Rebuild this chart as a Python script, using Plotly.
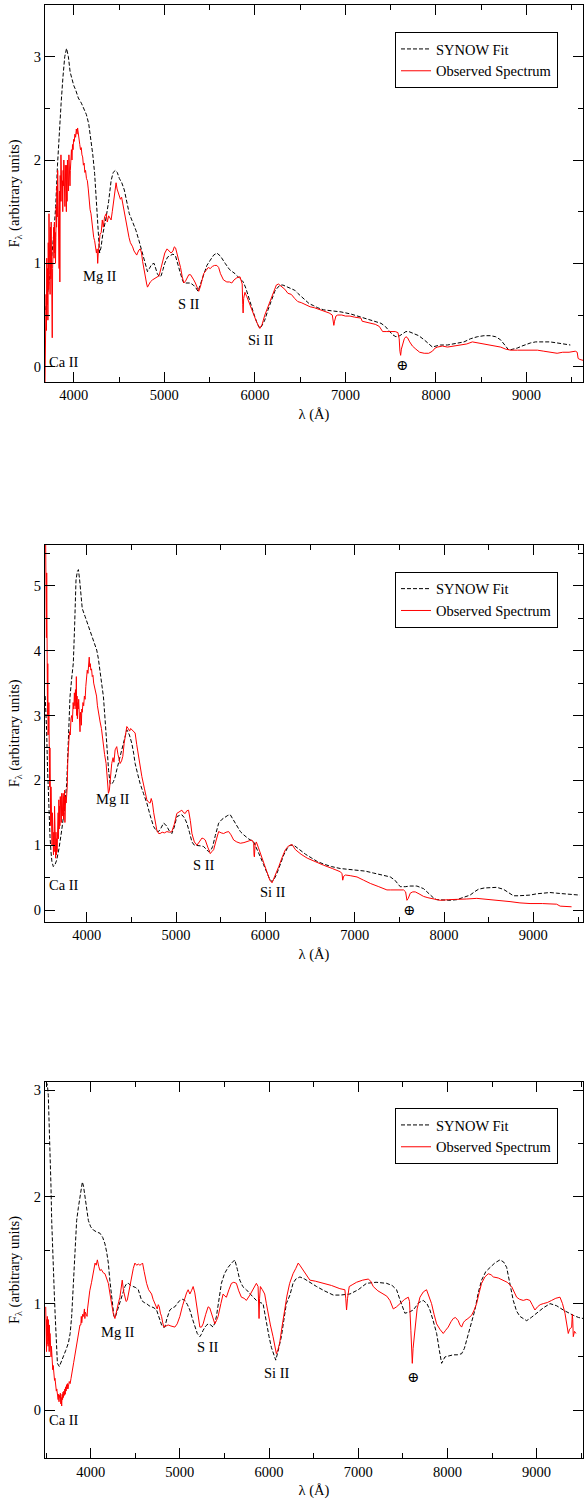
import plotly.graph_objects as go

# ---------------- Panel 1 ----------------
p1_fit_wl = [3690, 3720, 3750, 3780, 3800, 3820, 3840, 3860, 3880, 3900, 3920, 3940, 3960, 3980, 4000, 4020, 4050, 4084, 4110, 4139, 4165, 4193, 4210, 4230, 4250, 4266, 4285, 4300, 4320, 4358, 4385, 4412, 4435, 4460, 4480, 4504, 4530, 4558, 4585, 4613, 4650, 4686, 4720, 4759, 4790, 4814, 4835, 4860, 4887, 4905, 4923, 4945, 4965, 4985, 5004, 5035, 5069, 5095, 5124, 5150, 5179, 5200, 5215, 5250, 5288, 5320, 5343, 5372, 5400, 5434, 5470, 5507, 5545, 5580, 5620, 5672, 5720, 5781, 5830, 5872, 5900, 5927, 5965, 6000, 6030, 6055, 6080, 6109, 6145, 6182, 6220, 6255, 6285, 6310, 6340, 6365, 6402, 6440, 6474, 6512, 6560, 6600, 6650, 6695, 6760, 6850, 6952, 7060, 7172, 7280, 7393, 7440, 7484, 7520, 7558, 7600, 7635, 7668, 7700, 7730, 7760, 7810, 7870, 7920, 7961, 8000, 8050, 8127, 8200, 8250, 8310, 8380, 8457, 8530, 8604, 8660, 8714, 8760, 8805, 8850, 8897, 8950, 9000, 9044, 9100, 9191, 9260, 9338, 9420, 9484]
p1_fit_flux = [0.55, 0.75, 1.0, 1.3, 1.55, 1.95, 2.3, 2.55, 2.8, 3.0, 3.08, 3.0, 2.85, 2.78, 2.72, 2.68, 2.6, 2.55, 2.5, 2.44, 2.35, 2.19, 2.05, 1.87, 1.55, 1.29, 1.1, 1.15, 1.28, 1.45, 1.6, 1.8, 1.88, 1.9, 1.88, 1.82, 1.78, 1.71, 1.58, 1.48, 1.4, 1.32, 1.22, 1.1, 0.98, 0.92, 0.95, 0.99, 1.0, 0.95, 0.9, 0.87, 0.88, 0.94, 1.0, 1.06, 1.08, 1.09, 1.07, 1.0, 0.9, 0.84, 0.81, 0.81, 0.81, 0.79, 0.77, 0.73, 0.8, 0.9, 0.98, 1.03, 1.08, 1.1, 1.07, 1.0, 0.94, 0.9, 0.86, 0.82, 0.76, 0.68, 0.58, 0.48, 0.41, 0.37, 0.4, 0.45, 0.55, 0.65, 0.73, 0.77, 0.79, 0.79, 0.78, 0.77, 0.76, 0.74, 0.71, 0.68, 0.64, 0.61, 0.59, 0.57, 0.55, 0.54, 0.53, 0.51, 0.48, 0.45, 0.42, 0.39, 0.35, 0.31, 0.29, 0.3, 0.32, 0.34, 0.34, 0.33, 0.32, 0.3, 0.26, 0.22, 0.19, 0.2, 0.21, 0.21, 0.22, 0.23, 0.24, 0.27, 0.29, 0.3, 0.3, 0.29, 0.26, 0.21, 0.16, 0.17, 0.18, 0.2, 0.22, 0.23, 0.24, 0.24, 0.24, 0.23, 0.22, 0.21]

p1_obs_wl = [3682, 3686, 3690, 3694, 3698, 3702, 3706, 3710, 3714, 3718, 3722, 3726, 3730, 3734, 3738, 3742, 3746, 3750, 3754, 3758, 3762, 3766, 3770, 3774, 3778, 3782, 3786, 3790, 3794, 3798, 3802, 3806, 3810, 3814, 3818, 3822, 3826, 3830, 3834, 3838, 3842, 3846, 3850, 3854, 3858, 3862, 3866, 3870, 3874, 3878, 3882, 3886, 3890, 3894, 3898, 3902, 3906, 3910, 3914, 3918, 3922, 3926, 3930, 3934, 3938, 3942, 3946, 3950, 3954, 3958, 3962, 3966, 3970, 3974, 3980, 3986, 3992, 3998, 4005, 4012, 4020, 4028, 4036, 4042, 4050, 4058, 4066, 4074, 4082, 4090, 4098, 4106, 4114, 4122, 4130, 4140, 4150, 4160, 4170, 4180, 4190, 4200, 4210, 4220, 4230, 4240, 4250, 4258, 4264, 4270,
             4280, 4290, 4303, 4315, 4325, 4340, 4358, 4370, 4385, 4400, 4412, 4425, 4440, 4455, 4467, 4478, 4490, 4504, 4515, 4528, 4540, 4555, 4570, 4585, 4595, 4610, 4625, 4640, 4650, 4665, 4680, 4695, 4704, 4720, 4735, 4748, 4760, 4775, 4790, 4805, 4814, 4830, 4845, 4869, 4890, 4915, 4942, 4965, 4985, 5005, 5030, 5051, 5075, 5095, 5110, 5124, 5140, 5160, 5179, 5198, 5215, 5235, 5255, 5270, 5290, 5307, 5325, 5343, 5362, 5380, 5400, 5415, 5434, 5460, 5485, 5507, 5530, 5555, 5580, 5600, 5620, 5653, 5690, 5720, 5745, 5770, 5800, 5836, 5850, 5860, 5866, 5870, 5876, 5890, 5910, 5935, 5964, 5990, 6020, 6055, 6080, 6110, 6146, 6180, 6210, 6237, 6260, 6292, 6330, 6365, 6402, 6440, 6474, 6512, 6560, 6610, 6660, 6695, 6760, 6820, 6855, 6865, 6872, 6880, 6895, 6915, 6960, 7000, 7050, 7099, 7150, 7172, 7185, 7230, 7280, 7330, 7374, 7400, 7411, 7450, 7500, 7550, 7580, 7594, 7602, 7610, 7618, 7630, 7650, 7668, 7686, 7710, 7740, 7778, 7820, 7870, 7920, 7961, 7990, 8017, 8070, 8127, 8200, 8273, 8340, 8402, 8460, 8530, 8600, 8660, 8714, 8770, 8824, 8900, 8970, 9050, 9120, 9191, 9260, 9338, 9400, 9470, 9539, 9560, 9570, 9590, 9631]
p1_obs_flux = [-0.15, 0.3, 0.1, 0.7, 0.35, 1.05, 0.6, 0.95, 0.45, 1.2, 0.75, 1.48, 0.9, 1.3, 0.7, 1.35, 0.85, 1.4, 0.6, 1.1, 0.28, 0.95, 1.3, 1.0, 1.35, 1.05, 1.4, 1.1, 1.3, 1.0, 1.25, 1.55, 1.35, 1.75, 1.45, 1.9, 1.55, 1.8, 1.4, 0.95, 1.7, 0.82, 1.85, 1.6, 2.05, 1.7, 1.95, 1.6, 1.8, 1.5, 1.9, 1.75, 2.0, 1.65, 1.85, 1.55, 1.95, 1.7, 1.8, 1.5, 1.95, 1.6, 2.0, 1.75, 1.95, 1.7, 2.05, 1.85, 2.0, 1.75, 1.9, 2.05, 1.95, 2.1, 2.0, 2.15, 2.1, 2.2, 2.18, 2.25, 2.22, 2.3, 2.25, 2.31, 2.27, 2.2, 2.15, 2.1, 2.12, 2.05, 2.03, 1.95, 1.97, 1.88, 1.9, 1.82, 1.8, 1.72, 1.6, 1.52, 1.48, 1.38, 1.32, 1.25, 1.22, 1.15, 1.1, 1.14, 1.0, 1.1,
               1.2, 1.28, 1.3, 1.42, 1.35, 1.45, 1.48, 1.4, 1.46, 1.43, 1.42, 1.5, 1.62, 1.7, 1.78, 1.72, 1.68, 1.65, 1.62, 1.64, 1.58, 1.52, 1.45, 1.38, 1.3, 1.25, 1.2, 1.18, 1.16, 1.12, 1.1, 1.08, 1.1, 1.13, 1.14, 1.1, 1.02, 0.93, 0.85, 0.8, 0.77, 0.8, 0.82, 0.84, 0.85, 0.87, 0.88, 0.96, 1.04, 1.1, 1.14, 1.12, 1.1, 1.12, 1.16, 1.15, 1.1, 1.03, 0.96, 0.87, 0.81, 0.83, 0.86, 0.89, 0.89, 0.87, 0.84, 0.81, 0.76, 0.73, 0.78, 0.85, 0.9, 0.93, 0.96, 0.95, 0.97, 0.98, 0.98, 0.96, 0.9, 0.84, 0.82, 0.82, 0.81, 0.84, 0.86, 0.87, 0.84, 0.8, 0.6, 0.52, 0.66, 0.72, 0.68, 0.62, 0.57, 0.49, 0.43, 0.37, 0.41, 0.5, 0.58, 0.67, 0.74, 0.79, 0.8, 0.78, 0.75, 0.71, 0.7, 0.66, 0.63, 0.62, 0.6, 0.58, 0.57, 0.56, 0.54, 0.52, 0.5, 0.46, 0.4, 0.44, 0.49, 0.5, 0.5, 0.49, 0.49, 0.48, 0.47, 0.47, 0.44, 0.43, 0.42, 0.41, 0.39, 0.36, 0.34, 0.34, 0.34, 0.34, 0.33, 0.27, 0.15, 0.11, 0.17, 0.22, 0.27, 0.29, 0.28, 0.24, 0.2, 0.17, 0.14, 0.13, 0.13, 0.15, 0.18, 0.19, 0.2, 0.19, 0.2, 0.21, 0.22, 0.24, 0.23, 0.22, 0.21, 0.2, 0.19, 0.17, 0.16, 0.16, 0.16, 0.16, 0.16, 0.15, 0.14, 0.13, 0.14, 0.14, 0.15, 0.14, 0.08, 0.07, 0.06]

# ---------------- Panel 2 ----------------
p2_fit_wl = [3535, 3545, 3551, 3560, 3570, 3580, 3589, 3600, 3610, 3626, 3645, 3664, 3690, 3720, 3750, 3776, 3795, 3813, 3830, 3850, 3865, 3880, 3895, 3907, 3920, 3935, 3950, 3981, 4010, 4037, 4075, 4112, 4130, 4150, 4170, 4187, 4205, 4224, 4245, 4262, 4280, 4299, 4318, 4336, 4365, 4393, 4420, 4449, 4478, 4505, 4525, 4542, 4570, 4598, 4635, 4673, 4710, 4748, 4780, 4804, 4830, 4860, 4880, 4897, 4925, 4953, 4980, 5009, 5040, 5065, 5095, 5121, 5150, 5178, 5205, 5234, 5270, 5308, 5340, 5364, 5390, 5410, 5440, 5477, 5515, 5551, 5580, 5607, 5640, 5682, 5720, 5757, 5810, 5869, 5905, 5944, 5980, 6019, 6050, 6075, 6100, 6131, 6170, 6206, 6245, 6280, 6318, 6355, 6393, 6450, 6520, 6579, 6650, 6740, 6840, 6930, 7026, 7120, 7212, 7300, 7399, 7450, 7490, 7510, 7566, 7620, 7696, 7740, 7771, 7810, 7844, 7880, 7918, 7993, 8070, 8143, 8220, 8292, 8340, 8385, 8450, 8516, 8590, 8665, 8720, 8777, 8830, 8888, 8960, 9037, 9110, 9186, 9260, 9335, 9410, 9484, 9521]
p2_fit_flux = [3.3, 3.05, 2.78, 2.25, 1.75, 1.4, 1.13, 0.9, 0.75, 0.67, 0.7, 0.77, 0.95, 1.23, 1.55, 1.95, 2.55, 3.29, 3.55, 3.81, 4.4, 5.09, 5.22, 5.25, 5.1, 4.85, 4.65, 4.53, 4.42, 4.32, 4.18, 4.01, 3.88, 3.7, 3.5, 3.29, 2.95, 2.52, 2.15, 1.95, 1.94, 1.98, 2.05, 2.16, 2.32, 2.47, 2.64, 2.78, 2.7, 2.57, 2.42, 2.26, 2.1, 1.95, 1.8, 1.65, 1.46, 1.29, 1.22, 1.21, 1.26, 1.34, 1.32, 1.29, 1.22, 1.18, 1.28, 1.44, 1.46, 1.47, 1.42, 1.34, 1.2, 1.05, 1.0, 1.0, 0.99, 0.98, 0.94, 0.9, 0.92, 0.98, 1.15, 1.34, 1.4, 1.44, 1.46, 1.47, 1.4, 1.29, 1.21, 1.16, 1.1, 1.05, 0.95, 0.82, 0.7, 0.57, 0.47, 0.44, 0.48, 0.57, 0.72, 0.85, 0.95, 1.0, 1.0, 0.96, 0.92, 0.86, 0.8, 0.75, 0.71, 0.67, 0.64, 0.63, 0.62, 0.6, 0.57, 0.54, 0.51, 0.46, 0.39, 0.36, 0.36, 0.37, 0.37, 0.35, 0.33, 0.28, 0.23, 0.19, 0.16, 0.15, 0.15, 0.16, 0.19, 0.23, 0.28, 0.32, 0.34, 0.35, 0.35, 0.32, 0.27, 0.22, 0.22, 0.22, 0.23, 0.25, 0.26, 0.27, 0.26, 0.25, 0.24, 0.23, 0.23]

p2_obs_wl = [3540, 3543, 3546, 3549, 3552, 3555, 3558, 3561, 3564, 3567, 3570, 3573, 3576, 3579, 3582, 3585, 3588, 3591, 3594, 3597, 3600, 3604, 3608, 3612, 3616, 3620, 3624, 3628, 3632, 3636, 3640, 3644, 3648, 3652, 3656, 3660, 3664, 3668, 3672, 3676, 3680, 3684, 3688, 3692, 3696, 3700, 3704, 3708, 3712, 3716, 3720, 3724, 3728, 3732, 3736, 3740, 3744, 3748, 3752, 3756, 3760, 3764, 3770, 3776, 3782, 3788, 3794, 3800, 3808, 3816, 3824, 3832, 3840, 3848, 3856, 3862, 3868, 3874, 3880, 3884, 3888, 3892, 3896, 3900, 3905, 3910, 3915, 3920, 3925, 3930, 3935, 3940, 3945, 3950, 3958, 3966, 3974, 3982, 3990, 3998, 4006, 4014, 4022, 4028, 4034, 4040, 4046, 4054, 4062, 4070, 4078, 4086, 4094, 4102, 4110, 4120, 4130, 4140, 4150,
             4165, 4187, 4200, 4217, 4230, 4243, 4254, 4268, 4280, 4295, 4305, 4318, 4328, 4336, 4350, 4360, 4374, 4390, 4404, 4419, 4435, 4449, 4465, 4480, 4492, 4505, 4525, 4542, 4560, 4580, 4600, 4617, 4645, 4673, 4695, 4710, 4722, 4735, 4750, 4770, 4785, 4805, 4822, 4845, 4870, 4897, 4925, 4953, 4980, 5009, 5035, 5065, 5085, 5103, 5120, 5140, 5160, 5178, 5205, 5234, 5260, 5290, 5310, 5327, 5355, 5383, 5400, 5421, 5450, 5477, 5505, 5533, 5560, 5589, 5615, 5645, 5680, 5720, 5760, 5794, 5825, 5850, 5869, 5873, 5877, 5885, 5899, 5920, 5944, 5980, 6019, 6050, 6075, 6110, 6150, 6190, 6224, 6260, 6281, 6299, 6337, 6400, 6469, 6560, 6654, 6750, 6840, 6858, 6866, 6876, 6896, 6950, 7026, 7100, 7175, 7270, 7361, 7399, 7470, 7547, 7570, 7585, 7600, 7622, 7650, 7678, 7720, 7771, 7820, 7864, 7910, 7957, 8050, 8143, 8250, 8367, 8450, 8516, 8620, 8739, 8850, 8963, 9100, 9261, 9300, 9380, 9428]
p2_obs_flux = [5.7, 4.8, 5.6, 4.2, 5.2, 3.6, 4.5, 3.0, 3.8, 2.7, 3.4, 2.8, 3.2, 2.2, 2.9, 1.9, 2.5, 1.6, 2.2, 1.3, 1.9, 1.2, 1.7, 1.0, 1.5, 0.9, 1.3, 0.85, 1.2, 0.9, 1.6, 0.95, 1.4, 0.8, 1.2, 0.85, 1.1, 0.9, 1.3, 1.0, 1.5, 1.1, 1.7, 1.25, 1.6, 1.3, 1.75, 1.4, 1.65, 1.35, 1.8, 1.5, 1.7, 1.45, 1.8, 1.4, 1.75, 1.55, 1.85, 1.35, 1.7, 1.75, 1.65, 1.8, 1.9, 2.3, 2.55, 2.6, 2.75, 2.7, 2.95, 3.0, 2.9, 3.2, 3.1, 3.35, 3.15, 3.4, 3.1, 3.6, 3.0, 3.3, 2.95, 3.2, 3.1, 3.25, 2.9, 3.0, 2.75, 3.05, 3.0, 2.85, 3.1, 3.05, 3.2, 3.15, 3.3, 3.25, 3.45, 3.6, 3.7, 3.65, 3.85, 3.9, 3.75, 3.8, 3.7, 3.72, 3.6, 3.62, 3.5, 3.45, 3.4, 3.32, 3.3, 3.15, 3.05, 2.98, 2.9,
               2.8, 2.47, 2.4, 2.26, 2.05, 1.8, 1.85, 2.05, 2.26, 2.35, 2.28, 2.47, 2.5, 2.52, 2.4, 2.32, 2.26, 2.3, 2.37, 2.57, 2.72, 2.83, 2.8, 2.76, 2.8, 2.78, 2.74, 2.73, 2.55, 2.37, 2.2, 2.06, 1.88, 1.7, 1.66, 1.65, 1.72, 1.66, 1.5, 1.32, 1.23, 1.18, 1.18, 1.2, 1.19, 1.21, 1.2, 1.21, 1.32, 1.49, 1.52, 1.54, 1.5, 1.49, 1.53, 1.54, 1.38, 1.18, 1.05, 1.0, 1.05, 1.11, 1.1, 1.08, 0.97, 0.87, 0.9, 0.93, 1.08, 1.21, 1.19, 1.18, 1.2, 1.21, 1.16, 1.08, 1.05, 1.03, 1.04, 1.05, 1.07, 1.08, 1.03, 0.85, 0.82, 1.0, 1.05, 0.97, 0.87, 0.72, 0.57, 0.46, 0.42, 0.53, 0.67, 0.82, 0.93, 0.99, 1.0, 1.01, 0.93, 0.86, 0.8, 0.74, 0.69, 0.64, 0.59, 0.56, 0.46, 0.52, 0.54, 0.53, 0.51, 0.46, 0.41, 0.36, 0.31, 0.31, 0.31, 0.31, 0.28, 0.15, 0.18, 0.26, 0.28, 0.28, 0.25, 0.21, 0.19, 0.18, 0.16, 0.15, 0.16, 0.16, 0.17, 0.18, 0.17, 0.16, 0.14, 0.13, 0.11, 0.1, 0.1, 0.09, 0.06, 0.06, 0.05]

# ---------------- Panel 3 ----------------
p3_fit_wl = [3500, 3515, 3525, 3535, 3544, 3555, 3563, 3572, 3582, 3592, 3601, 3615, 3627, 3649, 3670, 3694, 3720, 3750, 3770, 3787, 3800, 3813, 3828, 3843, 3862, 3881, 3895, 3907, 3920, 3937, 3955, 3974, 4000, 4030, 4070, 4104, 4135, 4160, 4180, 4198, 4215, 4235, 4250, 4261, 4275, 4291, 4310, 4328, 4355, 4384, 4405, 4422, 4450, 4478, 4505, 4534, 4550, 4571, 4600, 4627, 4655, 4683, 4710, 4739, 4770, 4795, 4813, 4832, 4855, 4888, 4915, 4944, 4970, 5000, 5030, 5056, 5085, 5112, 5140, 5168, 5195, 5224, 5240, 5261, 5290, 5317, 5345, 5373, 5392, 5410, 5440, 5466, 5500, 5541, 5580, 5616, 5645, 5672, 5705, 5746, 5800, 5858, 5900, 5933, 5950, 5970, 6000, 6026, 6050, 6075, 6100, 6138, 6165, 6194, 6234, 6269, 6300, 6346, 6400, 6470, 6533, 6620, 6720, 6800, 6907, 7000, 7093, 7200, 7318, 7380, 7430, 7470, 7500, 7523, 7570, 7617, 7680, 7729, 7770, 7804, 7840, 7879, 7910, 7935, 7972, 8020, 8065, 8110, 8159, 8190, 8215, 8260, 8308, 8345, 8383, 8430, 8477, 8530, 8589, 8630, 8664, 8700, 8738, 8775, 8813, 8850, 8888, 8940, 9000, 9075, 9150, 9224, 9299, 9360, 9411, 9470, 9523]
p3_fit_flux = [3.08, 3.05, 2.95, 2.7, 2.56, 2.1, 1.78, 1.5, 1.34, 1.1, 0.91, 0.6, 0.44, 0.41, 0.45, 0.5, 0.56, 0.63, 0.72, 0.88, 1.08, 1.31, 1.6, 1.78, 1.9, 2.0, 2.1, 2.14, 2.1, 2.0, 1.88, 1.78, 1.72, 1.69, 1.67, 1.66, 1.62, 1.56, 1.48, 1.38, 1.22, 1.06, 0.94, 0.88, 0.87, 0.91, 0.96, 1.0, 1.08, 1.16, 1.19, 1.19, 1.17, 1.16, 1.15, 1.13, 1.09, 1.03, 1.01, 1.0, 0.98, 0.97, 0.96, 0.94, 0.87, 0.8, 0.78, 0.78, 0.86, 0.94, 0.96, 0.97, 1.0, 1.03, 1.04, 1.03, 0.99, 0.94, 0.86, 0.78, 0.72, 0.69, 0.71, 0.75, 0.79, 0.81, 0.8, 0.78, 0.82, 0.88, 1.05, 1.19, 1.28, 1.34, 1.38, 1.41, 1.32, 1.22, 1.16, 1.13, 1.08, 1.03, 1.01, 1.0, 0.92, 0.81, 0.69, 0.59, 0.52, 0.47, 0.55, 0.69, 0.84, 1.0, 1.08, 1.19, 1.23, 1.25, 1.23, 1.19, 1.16, 1.12, 1.08, 1.08, 1.09, 1.13, 1.19, 1.2, 1.19, 1.17, 1.13, 1.03, 0.95, 0.91, 0.92, 0.94, 1.01, 1.03, 1.0, 0.94, 0.84, 0.72, 0.56, 0.44, 0.5, 0.51, 0.52, 0.52, 0.53, 0.58, 0.66, 0.8, 0.94, 1.1, 1.22, 1.3, 1.34, 1.38, 1.41, 1.39, 1.34, 1.2, 1.03, 0.93, 0.88, 0.86, 0.84, 0.87, 0.91, 0.96, 1.0, 0.98, 0.94, 0.91, 0.89, 0.87, 0.86]

p3_obs_wl = [3496, 3499, 3502, 3505, 3508, 3511, 3514, 3517, 3520, 3523, 3526, 3529, 3532, 3535, 3538, 3541, 3544, 3548, 3552, 3556, 3560, 3565, 3570, 3575, 3580, 3585, 3590, 3595, 3600, 3605, 3610, 3615, 3620, 3625, 3630, 3635, 3640, 3645, 3650, 3655, 3660, 3665, 3670, 3675, 3680, 3685, 3690, 3695, 3700, 3705, 3710, 3715, 3720, 3725, 3730, 3735, 3740, 3745, 3750, 3760, 3770, 3780, 3790, 3800, 3810, 3820, 3830, 3840, 3850, 3860, 3870, 3880, 3890, 3895, 3900, 3910, 3920, 3930, 3935, 3940, 3950, 3960, 3965, 3970, 3980, 3990,
             4010, 4030, 4049, 4062, 4075, 4090, 4104, 4120, 4140, 4160, 4180, 4198, 4215, 4235, 4255, 4272, 4285, 4299, 4315, 4328, 4342, 4354, 4368, 4384, 4397, 4410, 4430, 4445, 4459, 4478, 4496, 4515, 4535, 4552, 4570, 4582, 4600, 4615, 4627, 4650, 4683, 4700, 4720, 4746, 4758, 4769, 4782, 4795, 4808, 4821, 4845, 4869, 4900, 4944, 4970, 5000, 5030, 5056, 5075, 5093, 5112, 5130, 5149, 5168, 5187, 5205, 5224, 5243, 5261, 5290, 5317, 5335, 5354, 5374, 5392, 5410, 5429, 5460, 5485, 5505, 5522, 5550, 5578, 5605, 5634, 5660, 5690, 5720, 5746, 5785, 5821, 5845, 5858, 5877, 5884, 5888, 5894, 5903, 5925, 5951, 5970, 5989, 6015, 6045, 6065, 6082, 6100, 6119, 6145, 6175, 6200, 6231, 6269, 6300, 6327, 6345, 6383, 6420, 6458, 6520, 6607, 6700, 6794, 6850, 6860, 6869, 6880, 6899, 6940, 6981, 7050, 7112, 7140, 7168, 7220, 7280, 7320, 7355, 7375, 7393, 7430, 7467, 7520, 7561, 7575, 7590, 7600, 7606, 7615, 7636, 7660, 7692, 7730, 7766, 7795, 7822, 7850, 7879, 7915, 7953, 7980, 8009, 8040, 8065, 8090, 8121, 8140, 8159, 8178, 8196, 8230, 8271, 8300, 8327, 8355, 8383, 8420, 8458, 8490, 8514, 8570, 8626, 8670, 8720, 8750, 8776, 8810, 8850, 8890, 8925, 8950, 8981, 9010, 9040, 9075, 9120, 9168, 9215, 9262, 9290, 9318, 9340, 9355, 9370, 9393, 9400, 9405, 9411, 9425, 9441]
p3_obs_flux = [0.97, 0.6, 0.9, 0.55, 0.85, 0.62, 0.88, 0.7, 0.8, 0.6, 0.85, 0.65, 0.75, 0.55, 0.8, 0.62, 0.72, 0.6, 0.68, 0.5, 0.6, 0.45, 0.5, 0.38, 0.42, 0.33, 0.36, 0.28, 0.3, 0.22, 0.26, 0.18, 0.2, 0.14, 0.17, 0.1, 0.15, 0.08, 0.14, 0.12, 0.16, 0.06, 0.12, 0.04, 0.15, 0.1, 0.17, 0.12, 0.18, 0.14, 0.2, 0.15, 0.22, 0.18, 0.24, 0.2, 0.25, 0.2, 0.22, 0.27, 0.25, 0.3, 0.34, 0.38, 0.45, 0.5, 0.55, 0.6, 0.66, 0.7, 0.75, 0.8, 0.8, 0.88, 0.82, 0.9, 0.88, 0.95, 0.86, 0.92, 0.9, 0.88, 0.95, 1.0, 1.05, 1.12,
               1.2, 1.3, 1.38, 1.36, 1.41, 1.35, 1.31, 1.32, 1.29, 1.28, 1.24, 1.19, 1.1, 1.0, 0.9, 0.86, 0.92, 0.97, 1.02, 1.06, 1.15, 1.22, 1.12, 1.06, 1.02, 1.03, 1.12, 1.2, 1.25, 1.33, 1.38, 1.36, 1.37, 1.36, 1.37, 1.38, 1.3, 1.22, 1.19, 1.13, 1.09, 1.04, 1.0, 0.95, 0.99, 0.97, 0.91, 0.88, 0.82, 0.78, 0.79, 0.8, 0.79, 0.78, 0.81, 0.88, 0.98, 1.06, 1.1, 1.13, 1.09, 1.12, 1.16, 1.1, 1.0, 0.88, 0.78, 0.78, 0.81, 0.9, 0.97, 0.96, 0.91, 0.85, 0.81, 0.84, 0.88, 1.0, 1.09, 1.07, 1.06, 1.13, 1.19, 1.2, 1.19, 1.12, 1.06, 1.05, 1.03, 1.08, 1.13, 1.17, 1.19, 1.16, 0.95, 0.86, 1.05, 1.16, 1.13, 1.09, 1.0, 0.91, 0.8, 0.69, 0.6, 0.53, 0.57, 0.63, 0.78, 0.94, 1.07, 1.19, 1.28, 1.33, 1.38, 1.36, 1.31, 1.26, 1.22, 1.21, 1.19, 1.17, 1.14, 1.13, 1.05, 0.94, 1.05, 1.16, 1.18, 1.2, 1.22, 1.23, 1.21, 1.16, 1.12, 1.09, 1.07, 1.03, 0.98, 0.95, 0.97, 1.0, 1.04, 1.06, 1.02, 0.75, 0.5, 0.44, 0.58, 0.75, 0.95, 1.06, 1.11, 1.13, 1.07, 1.0, 0.9, 0.81, 0.76, 0.72, 0.75, 0.78, 0.83, 0.86, 0.87, 0.84, 0.8, 0.78, 0.82, 0.84, 0.86, 0.89, 0.94, 1.0, 1.1, 1.19, 1.25, 1.28, 1.27, 1.25, 1.24, 1.22, 1.2, 1.16, 1.1, 1.06, 1.04, 1.03, 1.04, 1.03, 0.99, 0.94, 0.97, 0.99, 1.0, 1.01, 1.03, 1.05, 1.06, 1.0, 0.91, 0.78, 0.72, 0.76, 0.78, 0.9, 0.85, 0.69, 0.74, 0.72]

# axis ranges and line labels
x_ranges = [[3682, 9624], [3533, 9556], [3488, 9520]]
y_ranges = [[-0.148, 3.5], [-0.18, 5.63], [-0.45, 3.08]]
line_labels = ["Ca II", "Mg II", "S II", "Si II", "\u2295"]
label_pos = [
    [(3700, 0.05), (4285, 0.88), (5277, 0.61), (6066, 0.26), (7624, 0.02)],
    [(3560, 0.39), (4299, 1.71), (5316, 0.69), (6082, 0.28), (7603, 0.0)],
    [(3515, -0.09), (4310, 0.73), (5317, 0.59), (6090, 0.35), (7617, 0.31)],
]

W, H = 584, 1499
FONT = "Liberation Serif, Times New Roman, DejaVu Serif, serif"
FS = 14.5
panels = [
    (p1_fit_wl, p1_fit_flux, p1_obs_wl, p1_obs_flux),
    (p2_fit_wl, p2_fit_flux, p2_obs_wl, p2_obs_flux),
    (p3_fit_wl, p3_fit_flux, p3_obs_wl, p3_obs_flux),
]
# pixel boxes (top, bottom) of each panel
boxes = [(5, 382), (545, 921.7), (1081.7, 1458.3)]
legend_tops = [32, 571.7, 1108]

fig = go.Figure()
layout = dict(width=W, height=H, margin=dict(l=0, r=0, t=0, b=0),
              paper_bgcolor="white", plot_bgcolor="white",
              font=dict(family=FONT, size=FS, color="black"))
annotations = []
for i, (fw, ff, ow, of) in enumerate(panels):
    n = "" if i == 0 else str(i + 1)
    leg = "legend" if i == 0 else f"legend{i+1}"
    fig.add_trace(go.Scatter(x=fw, y=ff, mode="lines", name="SYNOW Fit",
                             line=dict(color="black", width=1, dash="4px,2px"),
                             xaxis="x" + n, yaxis="y" + n, legend=leg))
    fig.add_trace(go.Scatter(x=ow, y=of, mode="lines", name="Observed Spectrum",
                             line=dict(color="red", width=1),
                             xaxis="x" + n, yaxis="y" + n, legend=leg))
    top, bot = boxes[i]
    ydom = [1 - bot / H, 1 - top / H]
    axcommon = dict(showline=True, linecolor="black", linewidth=1, mirror="ticks",
                    ticks="inside", ticklen=10, tickcolor="black", showgrid=False,
                    zeroline=False, tickfont=dict(family=FONT, size=FS))
    layout["xaxis" + n] = dict(domain=[45 / W, 583 / W], range=x_ranges[i], anchor="y" + n,
                               dtick=1000, tick0=0,
                               minor=dict(ticks="inside", ticklen=5, dtick=500, tickcolor="black", showgrid=False),
                               title=dict(text="\u03bb (\u00c5)", font=dict(family=FONT, size=FS), standoff=6),
                               **axcommon)
    layout["yaxis" + n] = dict(domain=ydom, range=y_ranges[i], anchor="x" + n,
                               dtick=1, tick0=0,
                               minor=dict(ticks="inside", ticklen=5, dtick=0.5, tickcolor="black", showgrid=False),
                               title=dict(text="F<sub>\u03bb</sub> (arbitrary units)", font=dict(family=FONT, size=FS), standoff=10),
                               **axcommon)
    layout[leg] = dict(x=395 / W, y=1 - legend_tops[i] / H, xanchor="left", yanchor="top",
                       bgcolor="white", bordercolor="black", borderwidth=1,
                       font=dict(family=FONT, size=FS), tracegroupgap=0)
    for lab, (lx, ly) in zip(line_labels, label_pos[i]):
        annotations.append(dict(x=lx, y=ly, xref="x" + n, yref="y" + n, text=lab,
                                showarrow=False, font=dict(family=FONT, size=FS, color="black"),
                                xanchor="left" if lab == "Ca II" else "center"))
layout["annotations"] = annotations
fig.update_layout(**layout)
fig.write_html("out.html", config={"displayModeBar": False},
               post_script="document.body.style.margin='0';document.body.style.overflow='hidden';")
